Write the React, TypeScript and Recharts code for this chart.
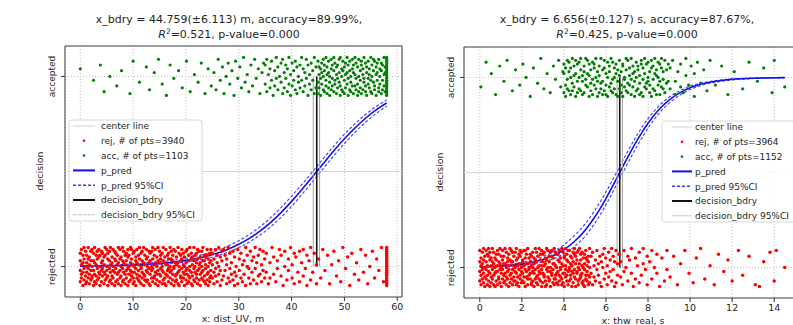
import React from "react";
import {
  CartesianGrid,
  ComposedChart,
  Line,
  ReferenceArea,
  ReferenceLine,
  Scatter,
  XAxis,
  YAxis,
} from "recharts";

// scatter rows: [x, jitter, jitter, ...] — jitter in hundredths around the class level (0 / 1)
const distRej: number[][] = [
  [0.0,-8,-2,3,7],[0.2,9,-6,1,-4],[0.5,-3,6,-10,2],[0.7,4,-7,10,-1],[1.0,-5,8,0,-9],
  [1.2,2,-8,-3,6],[1.5,10,-1,-6,4],[1.7,-9,5,-4,1],[2.0,3,-2,8,-7],[2.2,-6,0,9,-5],
  [2.5,7,-10,-2,3],[2.7,-4,2,-8,10],[3.0,1,-5,6,-9],[3.2,-7,4,-1,8],[3.5,5,-3,9,-6],
  [3.7,-10,0,-4,6],[4.0,8,-8,2,-2],[4.2,-1,7,-5,3],[4.5,-9,1,5,-3],[4.7,6,-4,10,-7],
  [5.0,-2,9,-6,0],[5.2,4,-10,7,-5],[5.5,-8,3,-1,8],[5.7,10,-3,-7,1],[6.0,-5,5,2,-9],
  [6.2,0,-6,9,-2],[6.5,-3,8,-10,4],[6.7,7,-1,3,-8],[7.0,-7,6,-4,1],[7.2,2,-9,10,-3],
  [7.5,-6,4,-2,9],[7.7,5,-5,0,-10],[8.0,-1,10,-8,3],[8.2,8,-7,-3,2],[8.5,-4,1,6,-9],
  [8.7,3,-2,-6,7],[9.0,-10,5,9,-1],[9.2,6,-8,-4,0],[9.5,-2,2,-7,10],[9.7,9,-5,4,-3],
  [10.0,-9,7,1,-6],[10.2,0,-3,8,-8],[10.5,5,-10,-1,3],[10.7,-6,9,2,-4],[11.0,1,-7,6,-2],
  [11.2,-8,4,10,-5],[11.5,7,-1,-9,0],[11.7,-3,3,-6,8],[12.0,10,-4,-10,2],[12.2,-5,6,1,-7],
  [12.5,4,-2,-8,9],[12.7,-7,0,5,-3],[13.0,2,-9,8,-1],[13.2,-10,7,-4,3],[13.5,8,-6,0,-2],
  [13.7,-1,4,-8,10],[14.0,-6,1,6,-5],[14.2,9,-3,-9,2],[14.5,-4,5,-7,0],[14.7,3,-10,10,-2],
  [15.0,-8,8,2,-4],[15.2,6,-5,-1,4],[15.5,-2,0,-9,7],[15.7,10,-7,3,-3],[16.0,-9,2,5,-6],
  [16.2,1,-4,9,-10],[16.5,-5,6,-2,1],[16.7,7,-8,4,-1],[17.0,-3,10,-6,0],[17.2,4,-9,-2,8],
  [17.5,-7,3,6,-4],[17.7,0,-1,-10,9],[18.0,8,-5,2,-8],[18.2,-4,5,-7,1],[18.5,2,-3,10,-9],
  [18.7,-10,7,0,-2],[19.0,6,-6,3,-5],[19.2,-1,9,-8,4],[19.5,-6,1,7,-3],[19.7,5,-10,-4,0],
  [20.0,-2,8,-7,2],[20.2,9,-4,-1,-9],[20.5,-8,3,6,-5],[20.7,0,-2,10,-6],[21.0,4,-9,-3,7],
  [21.2,-5,5,1,-10],[21.5,10,-1,-7,3],[21.7,-3,6,-8,0],[22.0,7,-6,2,-4],[22.2,-9,4,-2,9],
  [22.5,1,-7,8,-1],[22.7,-4,2,-10,5],[23.0,8,-3,-6,0],[23.2,-7,10,3,-2],[23.5,3,-8,-5,6],
  [23.7,-1,5,-9,1],[24.0,6,-4,9,-7],[24.2,-10,0,4,-3],[24.5,2,-6,7,-8],[24.7,-2,9,-5,3],
  [25.0,7,-6,1],[25.3,-3,4,-9],[25.6,9,-1,-5],[25.9,-8,2,6],[26.2,0,-4,10],
  [26.5,-10,5,-2],[26.8,3,-7,8],[27.1,-5,9],[27.4,6,-2],[27.7,-9,1,4],
  [28.0,10,-6],[28.3,-1,7,-8],[28.6,2,-4],[28.9,-7,8],[29.2,5,-3,-10],
  [29.5,-5,0],[29.8,9,-9],[30.1,-2,4],[30.4,7,-6],[30.7,-8,1],
  [31.0,3,-4],[31.3,-10,10],[31.6,0,6],[31.9,-6,-1],[32.2,8,-9],
  [32.5,-3,3],[32.8,5,-7],[33.1,-1,10],[33.4,-9,2],[33.7,6,-5],
  [34.0,-4,9],[34.3,1,-8],[34.6,8,-2],[34.9,-6,4],
  [35.2,7,-3],[35.6,-9],[35.9,2,-6],[36.3,10],[36.6,-4,5],[37.0,-8],[37.3,3,-1],
  [37.7,9],[38.0,-5,6],[38.4,-10],[38.7,0,8],[39.1,-7],[39.4,4,-2],[39.8,10],
  [40.1,-6,1],[40.5,-9,7],[40.8,5],[41.2,-3],[41.5,8,-8],[41.9,2],[42.2,-5,9],
  [42.6,-1],[42.9,6,-10],[43.3,3],[43.6,-7,10],[44.0,-3],[44.3,7],[44.7,-9,1],
  [45.1,4],[45.5,-6],[45.9,9],[46.3,-2],[46.8,6],[47.2,-9],[47.6,1],[48.0,8],
  [48.5,-5],[48.9,3],[49.3,-8],[49.7,10],[50.2,-1],[50.6,5],[51.0,-10],[51.4,7],
  [51.9,-4],[52.3,2],[52.7,-7],[53.1,9],[53.6,-3],[54.0,6],[54.4,-9],[54.8,0],
  [55.3,8],[55.7,-6],[56.1,4],[56.5,-2],[57.0,10],[57.4,-8],
  [58.0,-10,-9,-8,-7,-6,-5,-4,-3,-2,-1,0,1,2,3,4,5,6,7,8,9,10],
];

const distAcc: number[][] = [
  [0.0,4],[2.5,-2],[3.8,6],[4.5,-8],[5.6,0],[6.9,-5],[7.8,3],[9.4,-9],[10.0,8],
  [11.2,-3],[12.5,5],[13.1,-7],[14.0,2],[14.8,9],[15.5,-4],[16.3,-10],[17.0,6],
  [17.7,-1],[18.6,3],[19.3,-6],[20.1,8],[20.8,-8],[21.6,1],[22.3,-3],[22.9,7],
  [23.6,-9],[24.2,4],[24.8,-5],
  [25.3,2],[25.7,-7],[26.1,9],[26.5,-2],[26.9,5],[27.2,-9],[27.6,0],[28.0,7],
  [28.3,-4],[28.7,3],[29.1,-10],[29.4,8],[29.8,-1],[30.2,5],[30.5,-6],[30.9,10],
  [31.2,-3],[31.6,1],[31.9,-8],[32.3,6],[32.6,-5],[33.0,9],[33.3,-1],[33.7,4],
  [34.0,-9],[34.4,2],[34.7,7],
  [35.0,-4,6],[35.3,9,-8],[35.6,1],[35.9,-6,4],[36.2,8,-2],[36.5,-10],[36.8,3,-5],
  [37.1,10,-1],[37.4,-7,5],[37.7,0],[38.0,-3,7],[38.3,9,-9],[38.6,2,-6],[38.9,-1,6],
  [39.2,-8,4],[39.5,10,-4],[39.8,1,-10],[40.1,-5,7],[40.4,3,-2],[40.7,8,-7],[41.0,-9,5],
  [41.3,0,-3],[41.6,6,-6],[41.9,-2,10],[42.2,4,-8],[42.5,-5,2],[42.8,9,-1],[43.1,-10,6],
  [43.4,1,-4],[43.7,7,-7],[44.0,-2,3],[44.3,10,-9],[44.6,-6,5],
  [45.0,8,-3,-9],[45.2,1,-6,5],[45.5,-10,4,-1],[45.7,7,-4,2],[46.0,-7,9,0],
  [46.2,3,-8,6],[46.5,-2,10,-5],[46.7,5,-9,1],[47.0,-6,2,8],[47.2,0,-3,-10],
  [47.5,9,-7,4],[47.7,-1,6,-5],[48.0,3,-8,10],[48.2,-4,7,-2],[48.5,-9,1,5],
  [48.7,6,-6,-1],[49.0,-3,9,2],[49.2,10,-10,-5],[49.5,0,4,-7],[49.7,-8,8,3],
  [50.0,5,-2,-9],[50.2,-6,1,7],[50.5,2,-4,10],[50.7,-10,6,-1],[51.0,8,-7,3],
  [51.2,-3,0,-8],[51.5,4,9,-5],[51.7,-9,2,6],[52.0,1,-5,10],[52.2,7,-1,-7],
  [52.5,-4,5,-10],[52.7,9,-8,0],[53.0,-2,3,-6],[53.2,6,-9,8],[53.5,-7,1,4],
  [53.7,10,-3,-1],[54.0,-5,7,-8],[54.2,2,-10,5],[54.5,-1,8,-4],[54.7,4,-6,1],
  [55.0,-8,10,-2],[55.2,6,0,-9],[55.5,-3,3,9],[55.7,8,-7,-5],[56.0,-10,5,1],
  [56.2,2,-2,7],[56.5,-6,9,-8],[56.7,0,4,-4],[57.0,7,-9,3],[57.2,-2,6,-7],
  [57.5,10,-5,1],[57.7,-8,2,5],
  [58.0,-10,-9,-8,-7,-6,-5,-4,-3,-2,-1,0,1,2,3,4,5,6,7,8,9,10],
];

const distCurveX = [0,2,4,6,8,10,12,14,16,18,20,22,24,26,28,30,32,34,36,38,40,42,44,46,48,50,52,54,56,58];
const distPred = [0.0022,0.0029,0.0038,0.0049,0.0065,0.0085,0.0111,0.0146,0.0191,0.0249,0.0325,0.0424,0.0549,0.0711,0.0915,0.117,0.148,0.186,0.231,0.284,0.343,0.407,0.474,0.542,0.609,0.672,0.729,0.78,0.824,0.86];
const distPredLo = [0.001,0.0014,0.0019,0.0026,0.0036,0.005,0.0069,0.0095,0.013,0.0176,0.024,0.0325,0.0436,0.058,0.0765,0.1,0.129,0.165,0.208,0.259,0.317,0.381,0.448,0.516,0.583,0.647,0.706,0.759,0.805,0.843];
const distPredHi = [0.0045,0.0057,0.0072,0.009,0.0113,0.0142,0.0178,0.0223,0.028,0.035,0.044,0.0552,0.069,0.0865,0.109,0.136,0.169,0.209,0.256,0.31,0.37,0.434,0.5,0.568,0.634,0.696,0.751,0.8,0.842,0.876];
const distBdry = 44.759;
const distBdryCI = [44.1, 45.3];
const distTicks = [0, 10, 20, 30, 40, 50, 60];

const thwRej: number[][] = [
  [0.00,-7,3,-2,9],[0.06,5,-9,1,-4],[0.12,-1,8,-6,2],[0.18,10,-3,-8,4],[0.24,-5,0,6,-10],
  [0.30,3,-6,9,-1],[0.36,-9,7,-4,1],[0.42,6,-2,-7,10],[0.48,-3,4,-10,8],[0.54,1,-8,5,-5],
  [0.60,-6,10,-1,3],[0.66,8,-4,2,-9],[0.72,-10,5,-3,0],[0.78,4,-7,7,-2],[0.84,-2,9,-9,1],
  [0.90,7,-5,3,-6],[0.96,-8,2,-1,10],[1.02,0,-10,6,-3],[1.08,9,-1,-6,4],[1.14,-4,6,-8,2],
  [1.20,2,-3,10,-7],[1.26,-9,8,0,-5],[1.32,5,-6,-2,3],[1.38,-1,1,-10,7],[1.44,10,-8,4,-4],
  [1.50,-6,3,-3,9],[1.56,3,-9,8,-1],[1.62,-7,6,1,-5],[1.68,8,-2,-7,0],[1.74,-3,10,-9,4],
  [1.80,1,-5,5,-8],[1.86,-10,7,-1,2],[1.92,6,-4,9,-6],[1.98,-2,0,-8,8],[2.04,4,-7,3,-3],
  [2.10,-8,9,-5,1],[2.16,9,-1,-10,5],[2.22,-5,2,7,-2],[2.28,2,-9,10,-6],[2.34,-1,5,-4,0],
  [2.40,7,-6,-3,3],[2.46,-9,1,6,-8],[2.52,0,8,-7,-2],[2.58,5,-3,2,-10],[2.64,-6,10,-1,4],
  [2.70,3,-8,8,-5],[2.76,-4,6,0,-9],[2.82,10,-2,-6,1],[2.88,-7,4,-3,7],[2.94,1,-10,9,-1],
  [3.00,-3,7,-8,3],[3.06,8,-5,1,-4],[3.12,-10,2,5,-7],[3.18,4,-1,-9,10],[3.24,-5,9,-2,0],
  [3.30,6,-7,3,-6],[3.36,-2,0,-10,8],[3.42,9,-4,6,-3],[3.48,-8,5,-1,2],[3.54,2,-6,10,-9],
  [3.60,-6,8,-4,1],[3.66,0,-3,7,-8],[3.72,7,-9,-2,4],[3.78,-4,3,-7,9],[3.84,5,-1,0,-5],
  [3.90,-9,10,-6,2],[3.96,1,-8,8,-3],[4.02,-3,6,-10,5],[4.08,10,-5,1,-1],[4.14,-7,4,-4,7],
  [4.20,3,-2,9,-9],[4.26,-1,9,-7,0],[4.32,6,-6,2,-4],[4.38,-10,1,5,-2],[4.44,8,-3,-8,3],
  [4.50,-5,7,-1,10],[4.56,2,-10,6,-6],[4.62,-2,4,-3,8],[4.68,9,-7,0,-9],[4.74,-6,2,10,-1],
  [4.80,4,-4,-5,7],[4.86,-8,8,1,-3],[4.92,0,-9,5,-7],[4.98,7,-1,-10,2],[5.04,-4,5,9,-6],
  [5.10,1,-7,-2,4],[5.16,-9,3,6,-4],[5.22,10,-5,0,-8],
  [5.29,-3,6],[5.36,8,-9],[5.43,1,-5],[5.50,-7,4],[5.57,9,-1],[5.64,-4,2],[5.71,6,-8],
  [5.78,-10,3],[5.85,0,7],[5.92,-6,10],[5.99,5,-3],[6.06,-9,1],[6.13,8,-5],[6.20,-2,4],
  [6.27,10,-7],[6.34,-1,6],[6.41,3,-10],[6.48,-8,9],[6.55,2,-4],
  [6.62,7],[6.70,-5,3],[6.78,-9],[6.86,9,-2],[6.95,0],[7.04,-7,6],[7.12,4],[7.21,-3,10],
  [7.30,-10],[7.40,5,-6],[7.50,1],[7.58,8,-8],[7.68,-4],[7.77,10,2],[7.88,-1],[7.96,-9,6],
  [8.08,3],[8.18,-6,9],[8.30,0],[8.42,-3,7],[8.55,-10],[8.66,5],[8.78,-7],[8.90,9,-1],
  [9.05,-5],[9.22,6],[9.40,-9],[9.55,2],[9.75,9],[9.95,-3],[10.15,-8],[10.3,5],[10.5,10],
  [10.7,-6],[10.95,1],[11.15,-9],[11.35,7],[11.6,-2],[11.8,4],[12.0,-7],[12.3,9],[12.5,-4],
  [12.8,6],[13.1,-9],[13.3,-10],[13.5,3],[13.8,8],[14.0,-7],[14.1,9],[14.5,0],
];

const thwAcc: number[][] = [
  [0.05,-5],[0.3,8],[0.55,2],[0.75,-9],[0.95,6],[1.15,-2],[1.3,9],[1.55,-7],[1.7,4],
  [1.9,-4],[2.05,7],[2.2,0],[2.4,-10],[2.55,5],[2.75,-3],[2.9,10],[3.05,-6],[3.2,2],
  [3.35,-8],[3.5,6],[3.6,-1],[3.75,9],[3.85,-5],[3.95,3],
  [4.00,-8,2,7],[4.08,5,-4,-10],[4.16,-1,9,-6],[4.24,3,-7,8],[4.32,-9,0,5],[4.40,10,-3,-7],
  [4.48,-5,6,1],[4.56,2,-10,9],[4.64,-2,7,-8],[4.72,8,-6,0],[4.80,-7,4,10],[4.88,1,-2,-9],
  [4.96,6,-8,3],[5.04,-4,10,-1],[5.12,9,-5,2],[5.20,-10,1,7],[5.28,4,-7,-3],[5.36,-1,8,-9],
  [5.44,7,-4,5],[5.52,-6,0,10],[5.60,3,-10,-2],[5.68,-8,6,1],[5.76,10,-3,-6],[5.84,-2,4,-9],
  [5.92,5,-7,9],[6.00,-9,2,-4],[6.08,0,8,-10],[6.16,6,-5,3],[6.24,-3,10,-7],[6.32,8,-1,-8],
  [6.40,-6,5,0],[6.48,2,-9,7],[6.56,-10,4,-2],[6.64,9,-6,1],[6.72,-4,3,-8],[6.80,7,-10,6],
  [6.88,-1,0,-5],[6.96,4,-7,10],[7.04,-8,9,-3],[7.12,1,-4,5],[7.20,10,-9,-1],[7.28,-5,6,2],
  [7.36,3,-2,-10],[7.44,-7,8,0],[7.52,6,-6,4],[7.60,-3,1,-9],[7.68,9,-8,7],[7.76,-10,5,-1],
  [7.84,2,-5,10],[7.92,-6,7,-3],[8.00,8,-2,0],[8.08,-4,3,-8],[8.16,5,-10,9],[8.24,-1,6,-6],
  [8.32,10,-7,2],[8.40,-9,1,4],[8.48,0,-4,8],[8.56,7,-9,-2],[8.64,-5,5,10],[8.72,3,-6,-1],
  [8.80,-8,9],[8.88,4,-3],[8.96,-2,7],
  [9.05,-6,5],[9.17,9],[9.3,-2,-9],[9.42,3],[9.55,7,-5],[9.68,-8],[9.8,1,10],[9.93,-4],
  [10.05,6],[10.2,-10,2],[10.35,8],[10.5,-3],[10.65,4],[10.8,-7],[10.95,9],
  [11.2,-4],[11.5,6],[11.8,-9],[12.1,3],[12.5,-6],[12.8,8],[13.2,-2],[13.5,5],[13.9,-8],
  [14.0,9],[14.5,-5],
];

const thwCurveX = [0,0.5,1,1.5,2,2.5,3,3.5,4,4.5,5,5.5,6,6.5,7,7.5,8,8.5,9,9.5,10,10.5,11,11.5,12,12.5,13,13.5,14,14.5];
const thwPred = [0.0034,0.0052,0.0079,0.012,0.0183,0.0278,0.042,0.0631,0.0935,0.137,0.195,0.271,0.363,0.467,0.573,0.673,0.759,0.829,0.881,0.919,0.946,0.964,0.976,0.984,0.99,0.9933,0.9956,0.9971,0.9981,0.9988];
const thwPredLo = [0.002,0.0032,0.005,0.0078,0.0123,0.0193,0.03,0.0467,0.0718,0.11,0.164,0.238,0.33,0.435,0.541,0.643,0.733,0.808,0.864,0.906,0.936,0.957,0.971,0.98,0.987,0.991,0.994,0.996,0.997,0.998];
const thwPredHi = [0.0058,0.0084,0.0123,0.0182,0.027,0.0398,0.058,0.0843,0.12,0.168,0.229,0.306,0.397,0.499,0.604,0.701,0.783,0.848,0.896,0.93,0.954,0.97,0.98,0.987,0.992,0.995,0.997,0.998,0.9988,0.9993];
const thwBdry = 6.656;
const thwBdryCI = [6.529, 6.783];
const thwTicks = [0, 2, 4, 6, 8, 10, 12, 14];

const Y_DOMAIN = [-0.16, 1.16];
const FONT = "DejaVu Sans";
const TXT = "#262626";

const toPoints = (rows: number[][], level: number) =>
  rows.flatMap(([x, ...js]) => js.map((j) => ({ x, y: level + j / 100 })));
const toCurve = (xs: number[], ys: number[]) => xs.map((x, i) => ({ x, y: ys[i] }));

const dot = (color: string, r: number) => (props: any) =>
  props.cx == null ? <g /> : <circle cx={props.cx} cy={props.cy} r={r} fill={color} />;
const redDot = dot("#ff0000", 1.75);
const greenDot = dot("#008000", 1.6);

function YTick({ x, y, payload }: any) {
  const cx = x - 7;
  return (
    <text
      x={cx}
      y={y}
      transform={`rotate(-90 ${cx} ${y})`}
      textAnchor="middle"
      dominantBaseline="central"
      fontSize={9}
      fontFamily={FONT}
      fill={TXT}
    >
      {payload.value === 1 ? "accepted" : "rejected"}
    </text>
  );
}

interface PanelProps {
  left: number;
  width: number;
  yAxisWidth: number;
  top: number;
  right: number;
  xAxisHeight: number;
  xDomain: number[];
  ticks: number[];
  rej: number[][];
  acc: number[][];
  curveX: number[];
  pred: number[];
  lo: number[];
  hi: number[];
  bdry: number;
  bdryCI: number[];
}

function Panel(p: PanelProps) {
  const rejPts = toPoints(p.rej, 0);
  const accPts = toPoints(p.acc, 1);
  return (
    <div style={{ position: "absolute", left: p.left, top: 0 }}>
      <ComposedChart
        width={p.width}
        height={325}
        margin={{ top: p.top, right: p.right, left: 0, bottom: 0 }}
      >
        <CartesianGrid stroke="#bdbdbd" strokeDasharray="1 2" horizontalValues={[0, 1]} />
        <XAxis
          type="number"
          dataKey="x"
          domain={p.xDomain}
          ticks={p.ticks}
          allowDataOverflow
          height={p.xAxisHeight}
          axisLine={false}
          tickSize={4}
          tickLine={{ stroke: "#333" }}
          tick={{ fontSize: 9.5, fontFamily: FONT, fill: TXT }}
        />
        <YAxis
          type="number"
          dataKey="y"
          domain={Y_DOMAIN}
          ticks={[0, 1]}
          allowDataOverflow
          width={p.yAxisWidth}
          axisLine={false}
          tickSize={4}
          tickLine={{ stroke: "#333" }}
          tick={<YTick />}
        />
        <ReferenceLine y={0.5} stroke="#d6d6d6" strokeWidth={1} />
        <Scatter data={rejPts} dataKey="y" shape={redDot} isAnimationActive={false} />
        <Scatter data={accPts} dataKey="y" shape={greenDot} isAnimationActive={false} />
        <Line
          data={toCurve(p.curveX, p.lo)}
          dataKey="y"
          type="monotone"
          stroke="#3a3aff"
          strokeWidth={1.1}
          strokeDasharray="3 2"
          dot={false}
          isAnimationActive={false}
        />
        <Line
          data={toCurve(p.curveX, p.hi)}
          dataKey="y"
          type="monotone"
          stroke="#3a3aff"
          strokeWidth={1.1}
          strokeDasharray="3 2"
          dot={false}
          isAnimationActive={false}
        />
        <Line
          data={toCurve(p.curveX, p.pred)}
          dataKey="y"
          type="monotone"
          stroke="#1010ee"
          strokeWidth={1.6}
          dot={false}
          isAnimationActive={false}
        />
        {p.bdryCI.map((v) => (
          <ReferenceLine
            key={v}
            segment={[{ x: v, y: 0 }, { x: v, y: 1 }]}
            stroke="#a0a0a0"
            strokeWidth={1}
          />
        ))}
        <ReferenceLine
          segment={[{ x: p.bdry, y: 0 }, { x: p.bdry, y: 1 }]}
          stroke="#111"
          strokeWidth={1.6}
        />
        <ReferenceArea
          x1={p.xDomain[0]}
          x2={p.xDomain[1]}
          y1={Y_DOMAIN[0]}
          y2={Y_DOMAIN[1]}
          fill="none"
          fillOpacity={0}
          stroke="#3a3a3a"
          strokeWidth={1}
          ifOverflow="visible"
        />
      </ComposedChart>
    </div>
  );
}

const legendLabels = (rej: number, acc: number) => [
  "center line",
  `rej, # of pts=${rej}`,
  `acc, # of pts=${acc}`,
  "p_pred",
  "p_pred 95%CI",
  "decision_bdry",
  "decision_bdry 95%CI",
];

function Legend({ x, y, w, hx0, hx1, tx, rej, acc }: any) {
  const rows = legendLabels(rej, acc);
  const mid = (hx0 + hx1) / 2;
  const handle = (i: number, cy: number) => {
    switch (i) {
      case 0:
        return <line x1={hx0} x2={hx1} y1={cy} y2={cy} stroke="#d0d0d0" strokeWidth={1} />;
      case 1:
        return <circle cx={mid} cy={cy} r={1.3} fill="#ff0000" />;
      case 2:
        return <circle cx={mid} cy={cy} r={1.3} fill="#008000" />;
      case 3:
        return <line x1={hx0} x2={hx1} y1={cy} y2={cy} stroke="#1010ee" strokeWidth={2} />;
      case 4:
        return (
          <line x1={hx0} x2={hx1} y1={cy} y2={cy} stroke="#3a3aff" strokeWidth={1.5} strokeDasharray="3 2" />
        );
      case 5:
        return <line x1={hx0} x2={hx1} y1={cy} y2={cy} stroke="#111" strokeWidth={2} />;
      default:
        return (
          <line x1={hx0} x2={hx1} y1={cy} y2={cy} stroke="#aaa" strokeWidth={1} strokeDasharray="1.5 1" />
        );
    }
  };
  return (
    <g>
      <rect x={x} y={y} width={w} height={101} rx={3} fill="#fff" fillOpacity={0.85} stroke="#d8d8d8" />
      {rows.map((label, i) => {
        const cy = y + 6 + i * 14.8;
        return (
          <g key={label}>
            {handle(i, cy)}
            <text x={tx} y={cy + 3.3} fontSize={9} fontFamily={FONT} fill={TXT}>
              {label}
            </text>
          </g>
        );
      })}
    </g>
  );
}

function Title({ cx, line1, r2 }: { cx: number; line1: string; r2: string }) {
  return (
    <g fontFamily={FONT} fontSize={11} fill={TXT} textAnchor="middle">
      <text x={cx} y={23}>{line1}</text>
      <text x={cx} y={38}>
        <tspan fontStyle="italic">R</tspan>
        <tspan fontSize={7.5} dy={-4.5}>2</tspan>
        <tspan dy={4.5}>{`=${r2}, p-value=0.000`}</tspan>
      </text>
    </g>
  );
}

export default function App() {
  return (
    <div
      style={{
        position: "absolute",
        left: 0,
        top: 0,
        width: 793,
        height: 325,
        overflow: "hidden",
        background: "#fff",
      }}
    >
      <Panel
        left={0}
        width={410}
        yAxisWidth={65}
        top={46}
        right={8}
        xAxisHeight={28}
        xDomain={[-2.9, 60.9]}
        ticks={distTicks}
        rej={distRej}
        acc={distAcc}
        curveX={distCurveX}
        pred={distPred}
        lo={distPredLo}
        hi={distPredHi}
        bdry={distBdry}
        bdryCI={distBdryCI}
      />
      <Panel
        left={395}
        width={410}
        yAxisWidth={69}
        top={47}
        right={4.5}
        xAxisHeight={27}
        xDomain={[-0.75, 15.25]}
        ticks={thwTicks}
        rej={thwRej}
        acc={thwAcc}
        curveX={thwCurveX}
        pred={thwPred}
        lo={thwPredLo}
        hi={thwPredHi}
        bdry={thwBdry}
        bdryCI={thwBdryCI}
      />
      <svg
        width={793}
        height={325}
        style={{ position: "absolute", left: 0, top: 0, pointerEvents: "none" }}
      >
        <Title cx={229} line1="x_bdry = 44.759(±6.113) m, accuracy=89.99%," r2="0.521" />
        <Title cx={627} line1="x_bdry = 6.656(±0.127) s, accuracy=87.67%," r2="0.425" />
        <g fontFamily={FONT} fontSize={9.5} fill={TXT} textAnchor="middle">
          <text x={233} y={322}>x: dist_UV, m</text>
          <text x={633} y={324}>x: thw_real, s</text>
          <text x={39} y={171} transform="rotate(-90 39 171)" dominantBaseline="central">
            decision
          </text>
          <text x={439} y={172} transform="rotate(-90 439 172)" dominantBaseline="central">
            decision
          </text>
        </g>
        <Legend x={69} y={120} w={133} hx0={73} hx1={95} tx={101} rej={3940} acc={1103} />
        <Legend x={662} y={121} w={140} hx0={672} hx1={692} tx={695} rej={3964} acc={1152} />
      </svg>
    </div>
  );
}
